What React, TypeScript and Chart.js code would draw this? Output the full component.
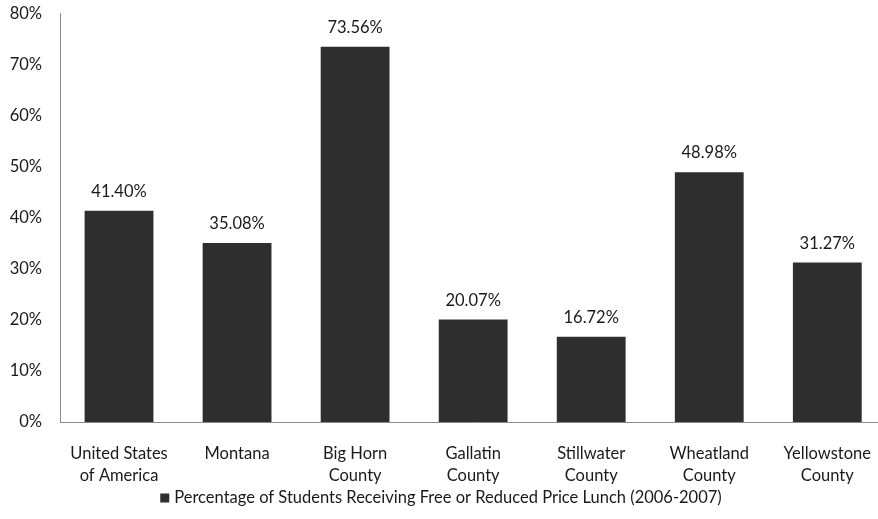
import React, { useEffect, useRef } from "react";
import { Chart, registerables } from "chart.js";

Chart.register(...registerables);

const categories: string[][] = [
  ["United States", "of America"],
  ["Montana"],
  ["Big Horn", "County"],
  ["Gallatin", "County"],
  ["Stillwater", "County"],
  ["Wheatland", "County"],
  ["Yellowstone", "County"],
];
const values: number[] = [41.4, 35.08, 73.56, 20.07, 16.72, 48.98, 31.27];
const seriesName = "Percentage of Students Receiving Free or Reduced Price Lunch (2006-2007)";
const yTicks: number[] = [0, 10, 20, 30, 40, 50, 60, 70, 80];

const FONT = "Lato, 'Open Sans', sans-serif";
const FS = 16.5;
const BAR = "#2e2e2e";
const SHIFT = 14;
const CW = 892;
const CH = 519 + SHIFT;

const labelPlugin = {
  id: "valueLabels",
  afterDatasetsDraw(chart: any) {
    const ctx = chart.ctx;
    const meta = chart.getDatasetMeta(0);
    ctx.save();
    ctx.font = `${FS}px ${FONT}`;
    ctx.fillStyle = "#1a1a1a";
    ctx.textAlign = "center";
    ctx.textBaseline = "middle";
    meta.data.forEach((el: any, i: number) => {
      ctx.fillText(values[i].toFixed(2) + "%", el.x, el.y - 19);
    });
    // legend
    const text = seriesName;
    const tw = ctx.measureText(text).width;
    const box = 9;
    const gap = 5;
    const total = box + gap + tw;
    const cx = 441;
    const x0 = cx - total / 2;
    const y = 498 + SHIFT;
    ctx.fillStyle = BAR;
    ctx.fillRect(x0, y - box / 2, box, box);
    ctx.fillStyle = "#1a1a1a";
    ctx.textAlign = "left";
    ctx.textBaseline = "middle";
    ctx.fillText(text, x0 + box + gap, y);
    ctx.restore();
  },
};

function BarChart() {
  const ref = useRef<HTMLCanvasElement>(null);
  useEffect(() => {
    if (!ref.current) return;
    const chart = new Chart(ref.current, {
      type: "bar",
      data: {
        labels: categories,
        datasets: [
          {
            label: seriesName,
            data: values,
            backgroundColor: BAR,
            barPercentage: 0.583,
            categoryPercentage: 1,
          },
        ],
      },
      plugins: [labelPlugin],
      options: {
        animation: false,
        responsive: false,
        layout: { padding: { top: 0, right: 0, bottom: 0, left: 0 } },
        plugins: {
          legend: { display: false },
          tooltip: { enabled: false },
        },
        scales: {
          x: {
            grid: { display: false, drawTicks: false },
            border: { display: true, color: "#8a8a8a", width: 1 },
            ticks: {
              color: "#1a1a1a",
              font: { family: FONT, size: FS, lineHeight: 1.3 },
              padding: 21,
              maxRotation: 0,
              autoSkip: false,
            },
            afterFit(scale: any) {
              scale.height = 97;
            },
          },
          y: {
            min: 0,
            max: 80,
            afterBuildTicks(scale: any) {
              scale.ticks = yTicks.map((v) => ({ value: v }));
            },
            grid: { display: false, drawTicks: false },
            border: { display: true, color: "#8a8a8a", width: 1 },
            ticks: {
              color: "#1a1a1a",
              font: { family: FONT, size: FS },
              padding: 18,
              callback: (v: any) => v + "%",
            },
            afterFit(scale: any) {
              scale.width = 60;
            },
          },
        },
      },
    });
    return () => chart.destroy();
  }, []);
  return (
    <canvas
      ref={ref}
      width={CW}
      height={CH}
      style={{ position: "absolute", left: 0, top: -SHIFT, width: CW, height: CH }}
    />
  );
}

export default function App() {
  return (
    <div
      style={{
        position: "absolute",
        left: 0,
        top: 0,
        width: 878,
        height: 519,
        overflow: "hidden",
        background: "#fff",
      }}
    >
      <BarChart />
    </div>
  );
}
